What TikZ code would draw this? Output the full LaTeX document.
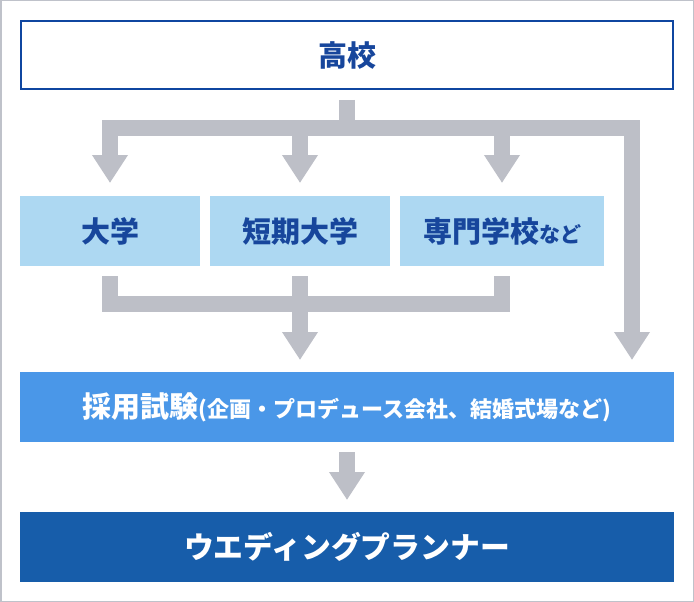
\documentclass[tikz,border=0pt]{standalone}
\usepackage{fontspec}
\newfontfamily\jp{Noto Sans CJK JP}
\usetikzlibrary{arrows.meta,calc}
\definecolor{arrowgray}{HTML}{BDBFC7}
\definecolor{bordergray}{HTML}{BFC2CA}
\definecolor{lightblue}{HTML}{ADD8F2}
\definecolor{midblue}{HTML}{4A97E8}
\definecolor{darkblue}{HTML}{175DAA}
\definecolor{txtblue}{HTML}{17469C}
\definecolor{hsblue}{HTML}{0F46A0}
\begin{document}
\begin{tikzpicture}[x=1pt,y=-1pt,
  box/.style={minimum width=#1, minimum height=70pt, inner sep=0pt, outer sep=0pt,
    font=\jp\bfseries\fontsize{29}{34}\selectfont},
  flow/.style={draw=arrowgray, line width=16pt, line join=miter},
  tipend/.style={-{Triangle[width=34pt,length=28pt]}},
  tipboth/.style={{Triangle[width=34pt,length=28pt]}-{Triangle[width=34pt,length=28pt]}}]
\useasboundingbox (0,0) rectangle (694,602);
\draw[bordergray, line width=1.5pt] (0.75,0.75) rectangle (693.25,601.25);

\node[box=652pt, minimum height=68pt, draw=hsblue, line width=2pt, text=txtblue] (koukou) at (347,55) {高校};
\node[box=180pt, fill=lightblue, text=txtblue] (daigaku) at (110,231) {大学};
\node[box=180pt, fill=lightblue, text=txtblue] (tanki) at (300,231) {短期大学};
\node[box=204pt, fill=lightblue, text=txtblue] (senmon) at (502,231) {専門学校{\fontsize{21}{24}\selectfont など}};
\node[box=654pt, fill=midblue, text=white] (saiyou) at (347,407) {採用試験{\fontsize{22}{26}\selectfont (企画・プロデュース会社、結婚式場など)}};
\node[box=654pt, fill=darkblue, text=white, font=\jp\bfseries\fontsize{29.8}{34}\selectfont] (wedding) at (347,547) {ウエディングプランナー};

\coordinate (bar) at ($(koukou.south)+(0,39)$);
\coordinate (rtip) at ($(saiyou.north)+(285,-12)$);
\coordinate (mbar) at ($(tanki.south)+(0,38)$);

\draw[flow] ($(koukou.south)+(0,11)$) -- (bar);
\draw[flow, tipboth] ($(daigaku.north)+(0,-13)$) |- (bar) -| (rtip);
\draw[flow, tipend] (tanki.north |- bar) -- ($(tanki.north)+(0,-13)$);
\draw[flow, tipend] (senmon.north |- bar) -- ($(senmon.north)+(0,-13)$);

\draw[flow] ($(daigaku.south)+(0,10)$) |- (mbar) -| ($(senmon.south)+(0,10)$);
\draw[flow, tipend] ($(tanki.south)+(0,10)$) -- ($(tanki.south |- saiyou.north)+(0,-12)$);

\draw[flow, tipend] ($(saiyou.south)+(0,10)$) -- ($(wedding.north)+(0,-12)$);
\end{tikzpicture}
\end{document}
